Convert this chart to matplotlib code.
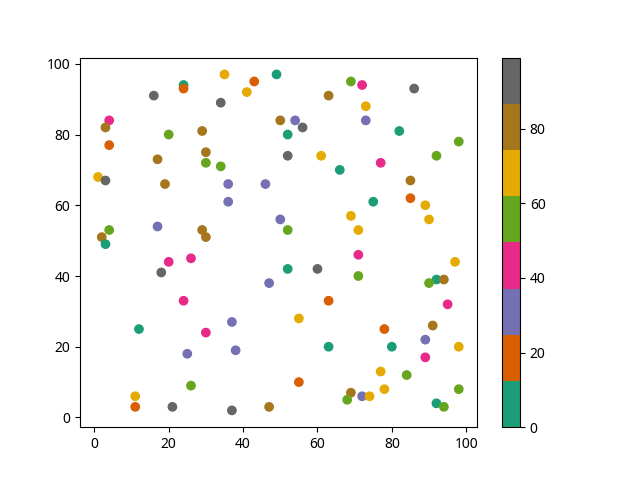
import matplotlib
matplotlib.use('Agg')
import matplotlib.pyplot as plt

plt.rcParams['font.family'] = ['Noto Sans', 'DejaVu Sans']

# Point positions
x = [35, 49, 24, 24, 43, 41, 16, 34, 50, 4, 3, 20, 29, 4, 30, 17, 30, 34, 1, 3,
     19, 36, 46, 36, 50, 4, 2, 3, 17, 29, 30, 69, 72, 86, 63, 73, 54, 56, 73, 52,
     82, 98, 52, 61, 92, 66, 77, 85, 85, 75, 89, 69, 90, 52, 71, 26, 20, 18, 47, 24,
     37, 12, 30, 25, 38, 26, 11, 11, 21, 37, 47, 71, 52, 60, 71, 97, 92, 94, 90, 63,
     95, 55, 78, 91, 89, 63, 80, 98, 89, 77, 84, 55, 69, 68, 72, 74, 78, 98, 92, 94]
y = [97, 97, 94, 93, 95, 92, 91, 89, 84, 84, 82, 80, 81, 77, 75, 73, 72, 71, 68, 67,
     66, 66, 66, 61, 56, 53, 51, 49, 54, 53, 51, 95, 94, 93, 91, 88, 84, 82, 84, 80,
     81, 78, 74, 74, 74, 70, 72, 67, 62, 61, 60, 57, 56, 53, 53, 45, 44, 41, 38, 33,
     27, 25, 24, 18, 19, 9, 6, 3, 3, 2, 3, 46, 42, 42, 40, 44, 39, 39, 38, 33,
     32, 28, 25, 26, 22, 20, 20, 20, 17, 13, 12, 10, 7, 5, 6, 6, 8, 8, 4, 3]
# Colour values (estimated from the colour bins)
c = [68, 6, 6, 18, 18, 68, 93, 93, 80, 43, 80, 55, 80, 18, 80, 80, 55, 55, 68, 93,
     80, 31, 31, 31, 31, 55, 80, 6, 31, 80, 80, 55, 43, 93, 80, 68, 31, 93, 31, 6,
     6, 55, 93, 68, 55, 6, 43, 80, 18, 6, 68, 68, 68, 55, 68, 43, 43, 93, 31, 43,
     31, 6, 43, 31, 31, 55, 68, 18, 93, 93, 80, 43, 6, 93, 55, 68, 6, 80, 55, 18,
     43, 68, 18, 80, 31, 6, 6, 68, 43, 68, 55, 18, 80, 55, 31, 68, 68, 55, 6, 55]

plt.figure(figsize=(6.4, 4.8), dpi=100)
plt.scatter(x, y, c=c, cmap='Dark2', vmin=0, vmax=99)
plt.colorbar()
plt.savefig('out.png')
